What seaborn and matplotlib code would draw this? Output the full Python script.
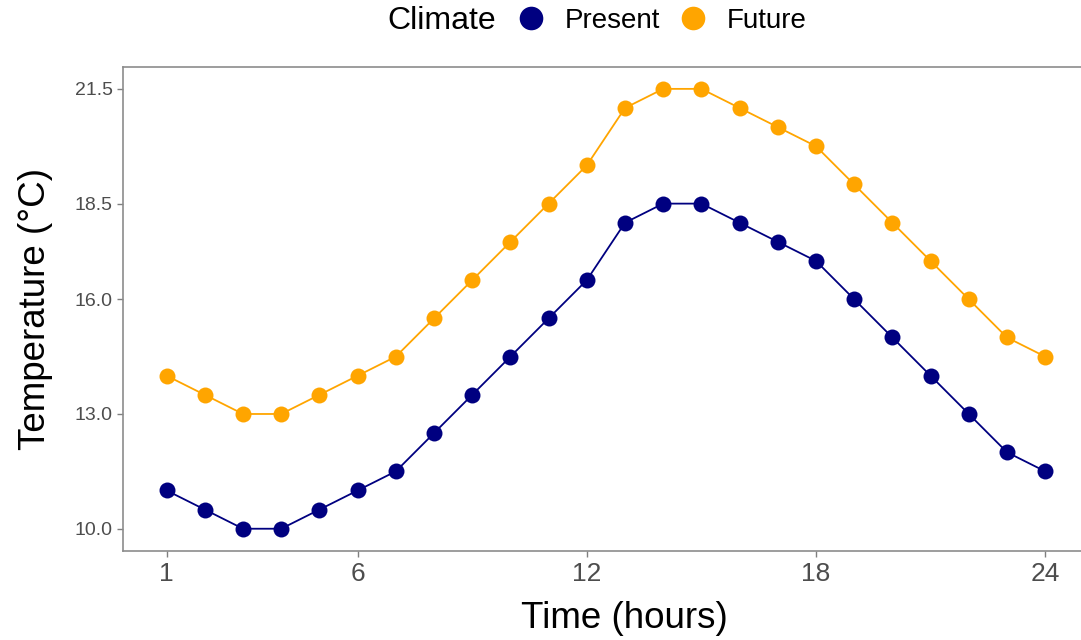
import pandas as pd
import matplotlib.pyplot as plt
import seaborn as sns
from matplotlib.lines import Line2D

# chart style
sns.set_style("white")
plt.rcParams['font.family'] = ['Liberation Sans', 'DejaVu Sans']
plt.rcParams['text.color'] = 'black'
plt.rcParams['axes.labelcolor'] = 'black'

# data
hours = list(range(1, 25))
present = [11.0, 10.5, 10.0, 10.0, 10.5, 11.0, 11.5, 12.5, 13.5, 14.5, 15.5, 16.5,
           18.0, 18.5, 18.5, 18.0, 17.5, 17.0, 16.0, 15.0, 14.0, 13.0, 12.0, 11.5]
future = [14.0, 13.5, 13.0, 13.0, 13.5, 14.0, 14.5, 15.5, 16.5, 17.5, 18.5, 19.5,
          21.0, 21.5, 21.5, 21.0, 20.5, 20.0, 19.0, 18.0, 17.0, 16.0, 15.0, 14.5]
climates = ['Present', 'Future']
colors = ['#000080', '#FFA500']
x_ticks = [1, 6, 12, 18, 24]
y_ticks = [10.0, 13.0, 16.0, 18.5, 21.5]

df = pd.DataFrame({
    'Hour': hours + hours,
    'Temperature': present + future,
    'Climate': ['Present'] * len(hours) + ['Future'] * len(hours),
})

fig = plt.figure(figsize=(10.81, 6.4), dpi=100)
ax = fig.add_axes([0.1135, 0.1395, 0.894, 0.756])

sns.lineplot(
    data=df,
    x='Hour',
    y='Temperature',
    hue='Climate',
    hue_order=climates,
    palette=colors,
    marker='o',
    markersize=11.5,
    markeredgewidth=0,
    linewidth=1.3,
    legend=False,
    ax=ax
)

ax.set_xlim(-0.15, 25.15)
ax.set_ylim(9.425, 22.075)
ax.set_xticks(x_ticks)
ax.set_yticks(y_ticks)
ax.set_yticklabels([f"{v:.1f}" for v in y_ticks])

ax.tick_params(axis='x', labelsize=19, colors='#7f7f7f', labelcolor='#4d4d4d',
               length=4, width=1, pad=4, bottom=True)
ax.tick_params(axis='y', labelsize=14, colors='#7f7f7f', labelcolor='#4d4d4d',
               length=4, width=1, pad=3, left=True)

for side in ['left', 'bottom', 'top']:
    ax.spines[side].set_color('#8c8c8c')
    ax.spines[side].set_linewidth(1.2)
ax.spines['right'].set_visible(False)

ax.set_xlabel("Time (hours)", fontsize=26.5, labelpad=11)
ax.xaxis.label.set_x(0.519)
ax.set_ylabel("Temperature (°C)", fontsize=26.5, labelpad=16)

# legend on top, title to the left
fig.text(387 / 1081, 1 - 21 / 640, "Climate", fontsize=23, va='center', ha='left')

handles = [
    Line2D([], [], linestyle='none', marker='o', markersize=17,
           markerfacecolor=c, markeredgewidth=0)
    for c in colors
]
fig.legend(
    handles,
    climates,
    ncol=2,
    loc='center left',
    bbox_to_anchor=(517 / 1081, 1 - 21 / 640),
    frameon=False,
    fontsize=20,
    borderpad=0,
    borderaxespad=0,
    handlelength=1.0,
    handletextpad=0.72,
    columnspacing=0.68
)

plt.savefig("out.png", dpi=100)
